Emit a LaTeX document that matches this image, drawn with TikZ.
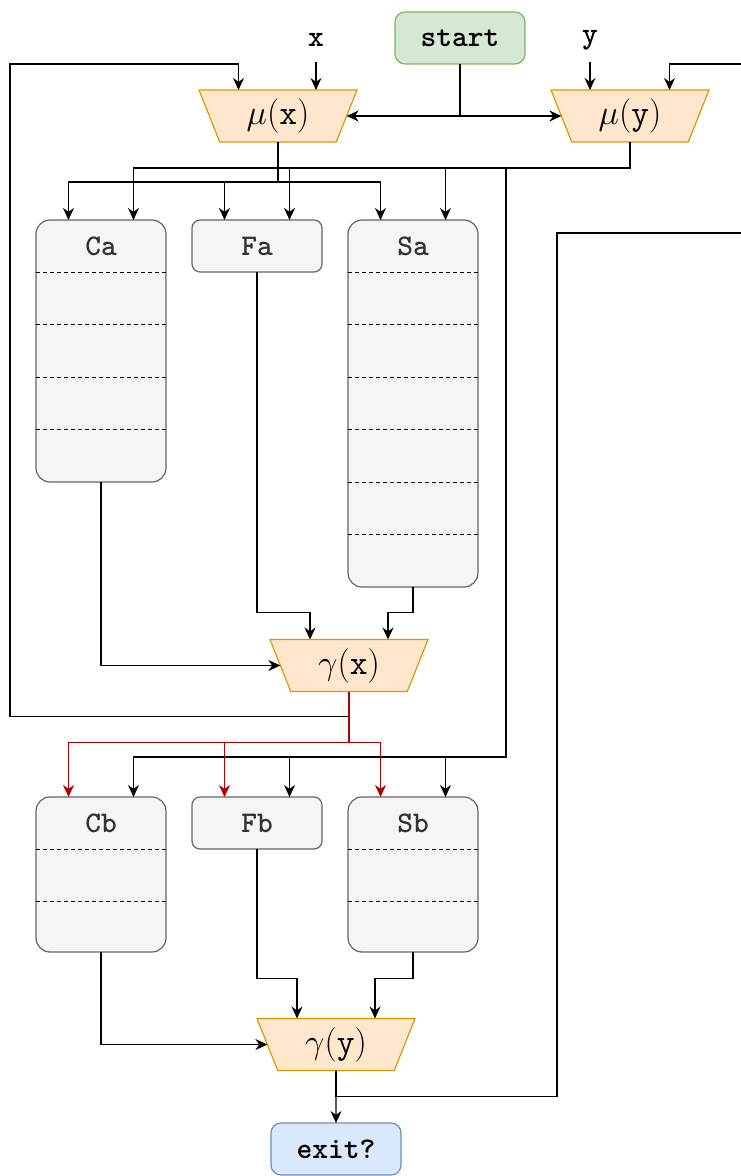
\documentclass[tikz,border=0pt]{standalone}
\usepackage{amsmath}
\usetikzlibrary{shapes.geometric, arrows.meta, positioning, calc}

\definecolor{muxfill}{HTML}{FFE6CC}
\definecolor{muxline}{HTML}{D79B00}
\definecolor{cellfill}{HTML}{F5F5F5}
\definecolor{cellline}{HTML}{666666}
\definecolor{celltext}{HTML}{333333}
\definecolor{startfill}{HTML}{D5E8D4}
\definecolor{startline}{HTML}{82B366}
\definecolor{exitfill}{HTML}{DAE8FC}
\definecolor{exitline}{HTML}{6C8EBF}
\definecolor{hotred}{HTML}{B20000}

\begin{document}
\begin{tikzpicture}[
    x=0.5pt, y=-0.5pt,
    font=\fontsize{15}{18}\selectfont\ttfamily\bfseries,
    mux/.style={trapezium, trapezium angle=121, trapezium stretches body,
                draw=muxline, fill=muxfill, line width=0.6pt,
                minimum width=79pt, minimum height=26pt,
                inner sep=0pt, outer sep=0pt,
                font=\fontsize{16}{18}\selectfont},
    term/.style={rectangle, rounded corners=5pt, line width=0.6pt,
                minimum width=65pt, minimum height=26pt,
                inner sep=0pt, outer sep=0pt},
    cell/.style={rectangle, rounded corners=7pt, draw=cellline,
                fill=cellfill, line width=0.6pt, minimum width=65pt,
                inner sep=0pt, outer sep=0pt, anchor=north west,
                label={[anchor=center, yshift=-13pt, text=celltext]north:#1}},
    short/.style={rounded corners=4pt, minimum height=26pt},
    inlabel/.style={inner sep=0pt, minimum height=22pt},
    rowline/.style={line width=0.5pt, dash pattern=on 2pt off 1.5pt},
    arrow/.style={-{Stealth[length=6pt, width=5.5pt]}, line width=0.65pt},
]
\useasboundingbox (0,0) rectangle (740,1176);

% inputs and the two selectors
\node[term, draw=startline, fill=startfill] (start) at (460,38) {start};
\node[inlabel] (xin) at (316,40) {x};
\node[inlabel] (yin) at (590,40) {y};
\node[mux] (mux) at (278,116) {$\mu(\mathtt{x})$};
\node[mux] (muy) at (630,116) {$\mu(\mathtt{y})$};

% first row of cells
\node[cell=Ca, minimum height=131pt] (ca) at (36,220) {};
\node[cell=Fa, short] (fa) at (192,220) {};
\node[cell=Sa, minimum height=183.5pt] (sa) at (348,220) {};
\foreach \k in {1,...,4}
    \draw[rowline] ($(ca.north west)+(0,52.4*\k)$) -- ($(ca.north east)+(0,52.4*\k)$);
\foreach \k in {1,...,6}
    \draw[rowline] ($(sa.north west)+(0,52.4*\k)$) -- ($(sa.north east)+(0,52.4*\k)$);

\node[mux] (gx) at (349,665.5) {$\gamma(\mathtt{x})$};

% second row of cells
\node[cell=Cb, minimum height=77.5pt] (cb) at (36,797) {};
\node[cell=Fb, short] (fb) at (192,797) {};
\node[cell=Sb, minimum height=77.5pt] (sb) at (348,797) {};
\foreach \k in {1,2}
    \draw[rowline] ($(cb.north west)+(0,52*\k)$) -- ($(cb.north east)+(0,52*\k)$);
\foreach \k in {1,2}
    \draw[rowline] ($(sb.north west)+(0,52*\k)$) -- ($(sb.north east)+(0,52*\k)$);

\node[mux] (gy) at (336,1044.5) {$\gamma(\mathtt{y})$};
\node[term, draw=exitline, fill=exitfill] (exit) at (336,1149) {exit?};

\coordinate (loopx) at (10,64);
\coordinate (ybus) at (506,757);
\coordinate (loopy) at (557,233);
\coordinate (offside) at (760,64);

% inputs into the selectors
\draw[arrow] (xin.south) -- (xin.south |- mux.north);
\draw[arrow] (yin.south) -- (yin.south |- muy.north);
\draw[arrow] (start.south) |- (mux.east);
\draw[arrow] (start.south) |- (muy.west);

% selectors to the first row
\foreach \c in {ca,fa,sa} {
    \draw[arrow] (mux.south) -- ++(0,40) -| ($(\c.north west)!0.25!(\c.north east)$);
    \draw[arrow] (muy.south) -- ++(0,26) -| ($(\c.north west)!0.75!(\c.north east)$);
}

% first row into gamma(x)
\draw[arrow] (ca.south) |- (gx.west);
\draw[arrow] (fa.south) |- ($(gx.north)+(-39,-27)$) -- ($(gx.north)+(-39,0)$);
\draw[arrow] (sa.south) |- ($(gx.north)+(39,-27)$) -- ($(gx.north)+(39,0)$);

% loop back to mu(x)
\draw[arrow] (gx.south) -- ++(0,25) -| (loopx) -| ($(mux.north)+(-39.5,0)$);

% to the second row
\foreach \c in {cb,fb,sb} {
    \draw[arrow] (muy.south) -- ++(0,26) -| (ybus) -| ($(\c.north west)!0.75!(\c.north east)$);
    \draw[arrow, hotred] (gx.south) -- ++(0,51) -| ($(\c.north west)!0.25!(\c.north east)$);
}

% second row into gamma(y)
\draw[arrow] (cb.south) |- (gy.west);
\draw[arrow] (fb.south) |- ($(gy.north)+(-39,-40)$) -- ($(gy.north)+(-39,0)$);
\draw[arrow] (sb.south) |- ($(gy.north)+(39,-40)$) -- ($(gy.north)+(39,0)$);

% exit and loop back to mu(y)
\draw[arrow] (gy.south) -- (exit.north);
\draw[arrow] (gy.south) -- ++(0,26) -| (loopy) -| (offside) -| ($(muy.north)+(39.5,0)$);

\end{tikzpicture}
\end{document}
